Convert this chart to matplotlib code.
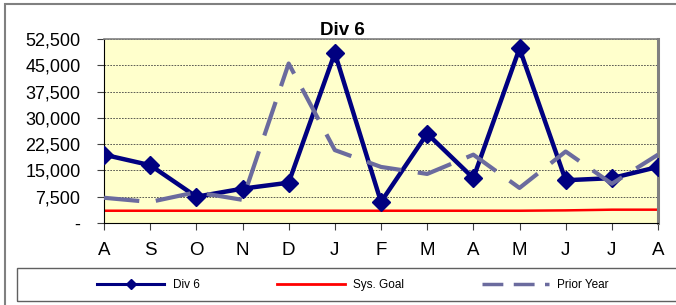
import matplotlib.pyplot as plt
from matplotlib.lines import Line2D
from matplotlib.patches import Rectangle
from matplotlib.ticker import FuncFormatter, MultipleLocator

plt.rcParams['font.family'] = ['Liberation Sans', 'DejaVu Sans']

months = ['A', 'S', 'O', 'N', 'D', 'J', 'F', 'M', 'A', 'M', 'J', 'J', 'A']
div6 = [19500, 16500, 7500, 9800, 11500, 48500, 6000, 25500, 12800, 49800, 12200, 12800, 16000]
sys_goal = [3500, 3500, 3500, 3500, 3500, 3500, 3500, 3500, 3500, 3500, 3600, 3800, 3800]
prior_year = [7200, 6000, 8800, 6600, 45500, 20800, 16000, 14000, 19500, 10000, 20400, 11200, 19500]

fig = plt.figure(figsize=(6.76, 3.05), dpi=100)
ax = fig.add_axes([104 / 676, 1 - 223 / 305, 554 / 676, 184 / 305])
ax.set_facecolor('#FFFFCC')

x = list(range(len(months)))
ax.plot(x, div6, color='#000080', lw=3.2, marker='D', markersize=9.5, zorder=3)
ax.plot(x, sys_goal, color='#FF0000', lw=1.8, zorder=2)
ax.plot(x, prior_year, color='#6B6B9E', lw=3, dashes=(8.5, 4), zorder=4)

ax.set_xlim(0, 12)
ax.set_ylim(0, 52500)
ax.yaxis.set_major_locator(MultipleLocator(7500))
ax.yaxis.set_major_formatter(FuncFormatter(lambda v, p: '-' if v == 0 else f'{int(v):,}'))
ax.set_xticks(x)
ax.set_xticklabels(months)
ax.tick_params(axis='both', labelsize=13, length=5, width=0.8, color='#404040')
ax.tick_params(axis='x', pad=9, labelsize=13.5)
ax.tick_params(axis='y', pad=12)
ax.grid(axis='y', color='#404040', lw=0.6, ls=(0, (2, 1.5)))
ax.set_axisbelow(True)

ax.spines['left'].set_color('black')
ax.spines['bottom'].set_color('black')
ax.spines['top'].set_color('#808080')
ax.spines['top'].set_linewidth(1.2)
ax.spines['right'].set_color('#808080')
ax.spines['right'].set_linewidth(2.2)

ax.set_title('Div 6', fontsize=13.5, fontweight='bold', pad=3, x=(342 - 104) / 554)

# outer chart frame and legend box (both run off the right/bottom edge)
fig.patches.append(Rectangle((5 / 676, -0.2), 1.2, 1.2 - 4 / 305,
                             transform=fig.transFigure, fill=False,
                             edgecolor='#808080', lw=1.5))
fig.patches.append(Rectangle((17 / 676, 1 - 301 / 305), 1.2, 33 / 305,
                             transform=fig.transFigure, fill=False,
                             edgecolor='#606060', lw=1.0))

handles = [
    Line2D([], [], color='#000080', lw=2.2, marker='D', markersize=5),
    Line2D([], [], color='#FF0000', lw=2),
    Line2D([], [], color='#6B6B9E', lw=2.5, dashes=(6, 3)),
]
fig.legend(handles, ['Div 6', 'Sys. Goal', 'Prior Year'], loc='center',
           bbox_to_anchor=(353 / 676, 1 - 285 / 305), ncol=3, frameon=False,
           fontsize=8.5, handlelength=5.7, handletextpad=0.7, columnspacing=6.6)

fig.savefig('out.png', dpi=100)
